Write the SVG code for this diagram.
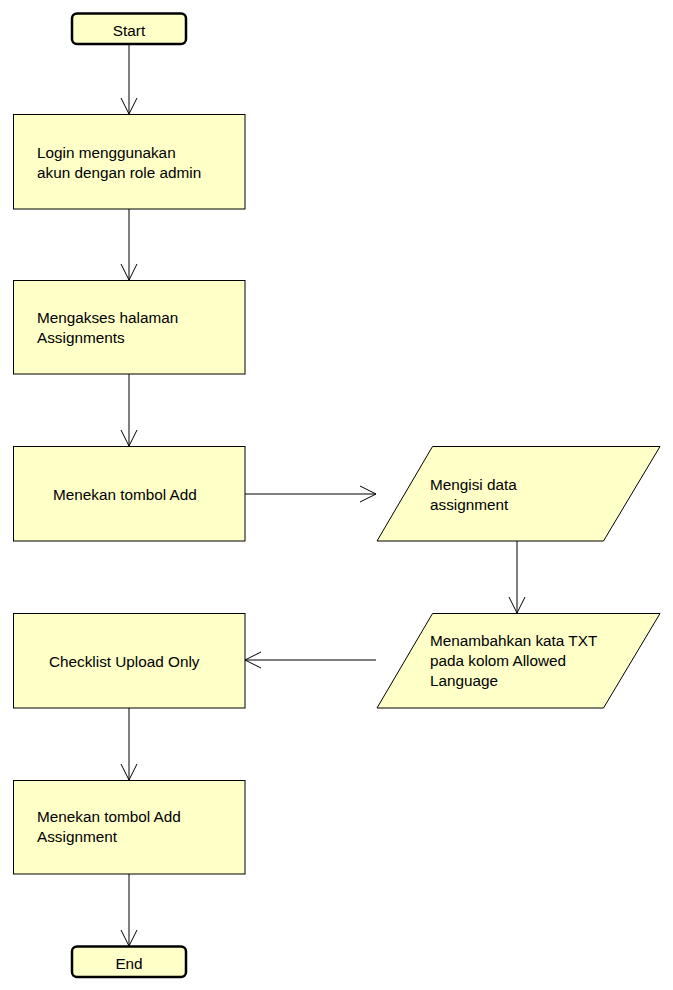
<svg xmlns="http://www.w3.org/2000/svg" width="673" height="990" viewBox="0 0 673 990">
<style>
.n{fill:#ffffc8;stroke:#000;stroke-width:1}
.t{fill:#ffffc8;stroke:#000;stroke-width:2.5}
text{font-family:"Liberation Sans",Arial,sans-serif;font-size:15.3px;fill:#000}
.c{stroke:#000;stroke-width:1;fill:none}
</style>
<defs>
<marker id="a" markerWidth="20" markerHeight="20" viewBox="-16 -10 20 20" refX="0" refY="0" orient="auto" markerUnits="userSpaceOnUse">
<path d="M-16,-8 L0,0 L-16,8" fill="none" stroke="#000" stroke-width="1"/>
</marker>
</defs>
<rect width="673" height="990" fill="#fff"/>
<g id="connectors">
<line class="c" x1="129" y1="44" x2="129" y2="114" marker-end="url(#a)"/>
<line class="c" x1="129" y1="209" x2="129" y2="280" marker-end="url(#a)"/>
<line class="c" x1="129" y1="374" x2="129" y2="446" marker-end="url(#a)"/>
<line class="c" x1="245" y1="494" x2="376" y2="494" marker-end="url(#a)"/>
<line class="c" x1="517" y1="541" x2="517" y2="613" marker-end="url(#a)"/>
<line class="c" x1="376" y1="660" x2="245" y2="660" marker-end="url(#a)"/>
<line class="c" x1="129" y1="708" x2="129" y2="780" marker-end="url(#a)"/>
<line class="c" x1="129" y1="874" x2="129" y2="946" marker-end="url(#a)"/>
</g>
<g id="start">
<rect class="t" x="72" y="13.5" width="114" height="30.5" rx="5"/>
<text x="129" y="36" text-anchor="middle">Start</text>
</g>
<g id="login">
<rect class="n" x="13.5" y="114.5" width="231.5" height="94.5"/>
<text x="37" y="158">Login menggunakan</text>
<text x="37" y="178">akun dengan role admin</text>
</g>
<g id="akses">
<rect class="n" x="13.5" y="280.5" width="231.5" height="93.5"/>
<text x="37" y="323">Mengakses halaman</text>
<text x="37" y="343">Assignments</text>
</g>
<g id="add">
<rect class="n" x="13.5" y="446.5" width="231.5" height="94.5"/>
<text x="53" y="500">Menekan tombol Add</text>
</g>
<g id="isi">
<polygon class="n" points="432.5,446.5 660,446.5 603.5,541 377,541"/>
<text x="430" y="490">Mengisi data</text>
<text x="430" y="510">assignment</text>
</g>
<g id="txt">
<polygon class="n" points="432.5,613.5 660,613.5 603.5,708 377,708"/>
<text x="430" y="646">Menambahkan kata TXT</text>
<text x="430" y="666">pada kolom Allowed</text>
<text x="430" y="686">Language</text>
</g>
<g id="checklist">
<rect class="n" x="13.5" y="613.5" width="231.5" height="94.5"/>
<text x="49" y="667">Checklist Upload Only</text>
</g>
<g id="addassign">
<rect class="n" x="13.5" y="780.5" width="231.5" height="93.5"/>
<text x="37" y="822">Menekan tombol Add</text>
<text x="37" y="842">Assignment</text>
</g>
<g id="end">
<rect class="t" x="72" y="946.5" width="114" height="30.5" rx="5"/>
<text x="129" y="969" text-anchor="middle">End</text>
</g>
</svg>
